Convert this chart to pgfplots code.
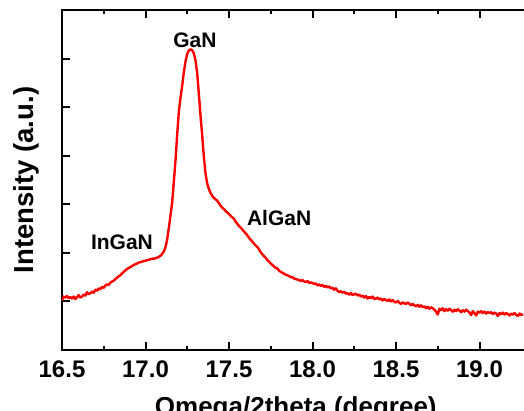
\documentclass[border=0pt]{standalone}
\usepackage{pgfplots}
\pgfplotsset{compat=1.18}
\usepackage{pgfplotstable}
\usetikzlibrary{calc}
\usepackage{fontspec}
\setmainfont{Liberation Sans}

\pgfplotstableread{
x y
16.50 1.02
16.51 1.10
16.52 1.08
16.53 1.11
16.54 1.07
16.55 1.09
16.56 1.06
16.57 1.10
16.58 1.05
16.59 1.09
16.60 1.13
16.61 1.08
16.62 1.10
16.63 1.14
16.64 1.12
16.65 1.19
16.66 1.15
16.67 1.17
16.68 1.20
16.69 1.18
16.70 1.24
16.71 1.22
16.72 1.27
16.73 1.25
16.74 1.30
16.75 1.28
16.76 1.33
16.77 1.35
16.78 1.34
16.79 1.39
16.80 1.41
16.81 1.43
16.82 1.46
16.83 1.49
16.84 1.52
16.85 1.54
16.86 1.58
16.87 1.61
16.88 1.64
16.89 1.67
16.90 1.69
16.91 1.71
16.92 1.73
16.93 1.75
16.94 1.77
16.95 1.78
16.96 1.80
16.97 1.81
16.98 1.82
16.99 1.83
17.00 1.84
17.01 1.85
17.02 1.86
17.03 1.87
17.04 1.88
17.05 1.88
17.06 1.89
17.07 1.90
17.08 1.92
17.09 1.94
17.10 1.98
17.11 2.03
17.12 2.12
17.13 2.28
17.14 2.52
17.15 2.78
17.16 3.05
17.17 3.48
17.18 3.92
17.19 4.45
17.20 4.92
17.21 5.20
17.22 5.45
17.23 5.73
17.24 5.95
17.25 6.10
17.26 6.17
17.27 6.19
17.28 6.17
17.29 6.10
17.30 5.95
17.31 5.68
17.32 5.25
17.33 4.80
17.34 4.40
17.35 3.95
17.36 3.62
17.37 3.42
17.38 3.31
17.39 3.23
17.40 3.17
17.41 3.13
17.42 3.10
17.43 3.07
17.44 3.02
17.45 2.97
17.46 2.93
17.47 2.90
17.48 2.86
17.49 2.83
17.50 2.80
17.51 2.76
17.52 2.73
17.53 2.70
17.54 2.64
17.55 2.60
17.56 2.55
17.57 2.52
17.58 2.48
17.59 2.44
17.60 2.40
17.61 2.36
17.62 2.31
17.63 2.27
17.64 2.23
17.65 2.19
17.66 2.15
17.67 2.12
17.68 2.07
17.69 2.01
17.70 1.97
17.71 1.93
17.72 1.90
17.73 1.85
17.74 1.82
17.75 1.78
17.76 1.75
17.77 1.72
17.78 1.69
17.79 1.68
17.80 1.63
17.81 1.61
17.82 1.59
17.83 1.57
17.84 1.55
17.85 1.54
17.86 1.52
17.87 1.50
17.88 1.50
17.89 1.47
17.90 1.46
17.91 1.45
17.92 1.44
17.93 1.42
17.94 1.44
17.95 1.41
17.96 1.40
17.97 1.42
17.98 1.38
17.99 1.39
18.00 1.38
18.01 1.36
18.02 1.37
18.03 1.33
18.04 1.35
18.05 1.32
18.06 1.34
18.07 1.30
18.08 1.32
18.09 1.29
18.10 1.31
18.11 1.27
18.12 1.28
18.13 1.24
18.14 1.27
18.15 1.22
18.16 1.19
18.17 1.21
18.18 1.18
18.19 1.20
18.20 1.16
18.21 1.17
18.22 1.14
18.23 1.17
18.24 1.13
18.25 1.15
18.26 1.16
18.27 1.12
18.28 1.14
18.29 1.10
18.30 1.12
18.31 1.08
18.32 1.11
18.33 1.06
18.34 1.09
18.35 1.07
18.36 1.10
18.37 1.05
18.38 1.06
18.39 1.08
18.40 1.04
18.41 1.06
18.42 1.02
18.43 1.05
18.44 1.03
18.45 1.01
18.46 1.04
18.47 1.00
18.48 1.03
18.49 0.99
18.50 0.98
18.51 1.01
18.52 0.97
18.53 0.95
18.54 0.98
18.55 0.96
18.56 0.95
18.57 0.98
18.58 0.95
18.59 0.92
18.60 0.95
18.61 0.92
18.62 0.90
18.63 0.93
18.64 0.89
18.65 0.92
18.66 0.88
18.67 0.90
18.68 0.86
18.69 0.89
18.70 0.85
18.71 0.88
18.72 0.86
18.73 0.83
18.74 0.79
18.75 0.73
18.76 0.85
18.77 0.82
18.78 0.86
18.79 0.80
18.80 0.84
18.81 0.81
18.82 0.85
18.83 0.82
18.84 0.79
18.85 0.83
18.86 0.80
18.87 0.84
18.88 0.81
18.89 0.78
18.90 0.82
18.91 0.79
18.92 0.83
18.93 0.80
18.94 0.77
18.95 0.72
18.96 0.80
18.97 0.76
18.98 0.71
18.99 0.79
19.00 0.77
19.01 0.80
19.02 0.76
19.03 0.79
19.04 0.75
19.05 0.78
19.06 0.76
19.07 0.78
19.08 0.74
19.09 0.77
19.10 0.75
19.11 0.70
19.12 0.76
19.13 0.74
19.14 0.77
19.15 0.73
19.16 0.76
19.17 0.74
19.18 0.71
19.19 0.75
19.20 0.73
19.21 0.76
19.22 0.72
19.23 0.70
19.24 0.75
19.25 0.72
19.26 0.74
}\xrd

\begin{document}
\begin{tikzpicture}
\begin{axis}[
    name=ax,
    scale only axis,
    width=467.6pt, height=340pt,
    xmin=16.5, xmax=19.3,
    ymin=0, ymax=7,
    xtick={16.5,17.0,...,19.0},
    minor x tick num=1,
    ytick={1,2,3,4,5,6},
    yticklabels={},
    tick align=inside,
    major tick length=8pt,
    minor tick length=4pt,
    axis line style={line width=2.5pt},
    every tick/.style={black, line width=2pt},
    ytick pos=left,
    x tick label style={font=\fontsize{24}{28}\selectfont\bfseries, yshift=-7pt, /pgf/number format/.cd, fixed, fixed zerofill, precision=1, assume math mode=true},
    xlabel={Omega/2theta (degree)},
    xlabel style={font=\fontsize{26}{30}\selectfont\bfseries, at={(axis description cs:0.5,0)}, anchor=north, yshift=-43pt},
    ylabel={Intensity (a.u.)},
    ylabel style={font=\fontsize{27.5}{32}\selectfont\bfseries, at={(axis description cs:0,0.5)}, anchor=center, yshift=36pt},
    clip=true,
]
\addplot[red, line width=2.4pt, line join=round] table[x=x, y=y] {\xrd};
\node[font=\fontsize{21}{25}\selectfont\bfseries] at (axis cs:17.296,6.38) {GaN};
\node[font=\fontsize{21}{25}\selectfont\bfseries] at (axis cs:16.859,2.22) {InGaN};
\node[font=\fontsize{21}{25}\selectfont\bfseries] at (axis cs:17.80,2.72) {AlGaN};
\end{axis}
\pgfresetboundingbox
\useasboundingbox ($(ax.south west)+(-62pt,-60pt)$) rectangle ++(524pt,410pt);
\end{tikzpicture}
\end{document}
